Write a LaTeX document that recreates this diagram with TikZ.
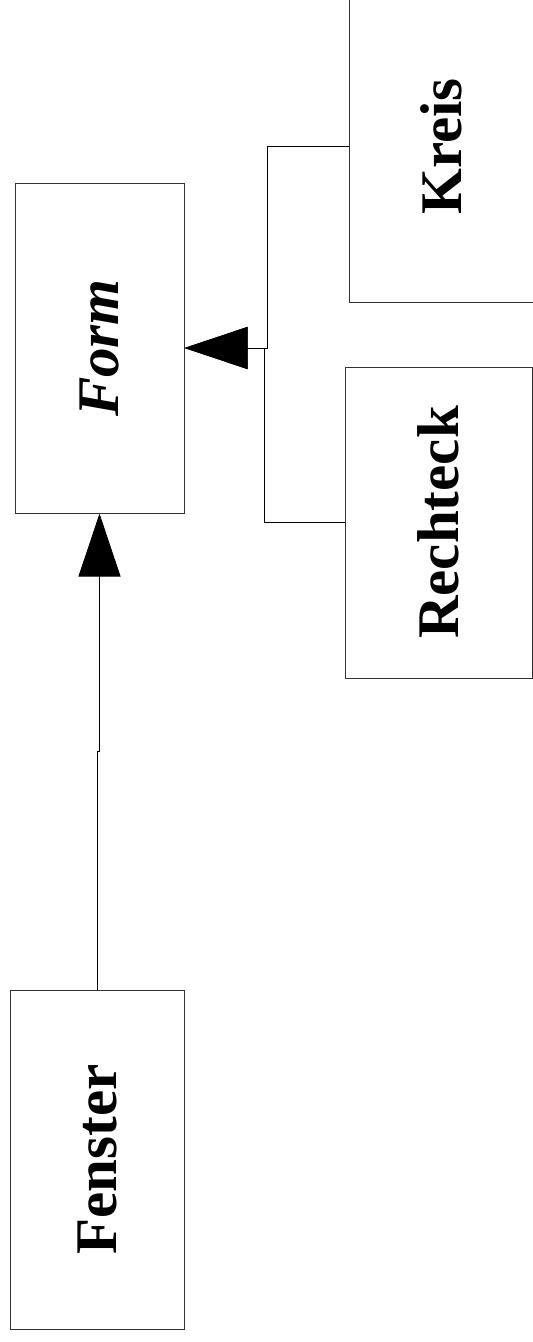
\documentclass[tikz,border=0pt]{standalone}
\usepackage{fontspec}
\setmainfont{Liberation Serif}
\usetikzlibrary{arrows.meta}

\begin{document}
\begin{tikzpicture}[x=1pt,y=-1pt,
  classbox/.style={draw=black!80, line width=1pt, fill=white, inner sep=0pt,
    font=\fontsize{59}{60}\selectfont\bfseries},
  inherit/.style={draw=black, line width=0.9pt,
    -{Triangle[length=63pt,width=42pt]}}]
  \useasboundingbox (0,0) rectangle (533,1342);
  \clip (0,0) rectangle (533,1342);

  % classes, labels set upright along the box
  \node[classbox, minimum width=169pt, minimum height=330pt] (form)
    at (99.5,348) {\rotatebox{90}{\itshape Form}};
  \node[classbox, minimum width=185pt, minimum height=311pt] (kreis)
    at (441.5,146.5) {\rotatebox{90}{Kreis}};
  \node[classbox, minimum width=187pt, minimum height=311pt] (rechteck)
    at (438.5,522.5) {\rotatebox{90}{Rechteck}};
  \node[classbox, minimum width=174pt, minimum height=339pt] (fenster)
    at (97,1159.5) {\rotatebox{90}{Fenster}};

  % inheritance connectors
  \draw[inherit] (kreis.west) -| (267,348) -- (form.east);
  \draw[inherit] (rechteck.west) -| (264,348) -- (form.east);
  \draw[inherit] (fenster.north) -- (97,751) -- (99.5,751) -- (form.south);
\end{tikzpicture}
\end{document}
